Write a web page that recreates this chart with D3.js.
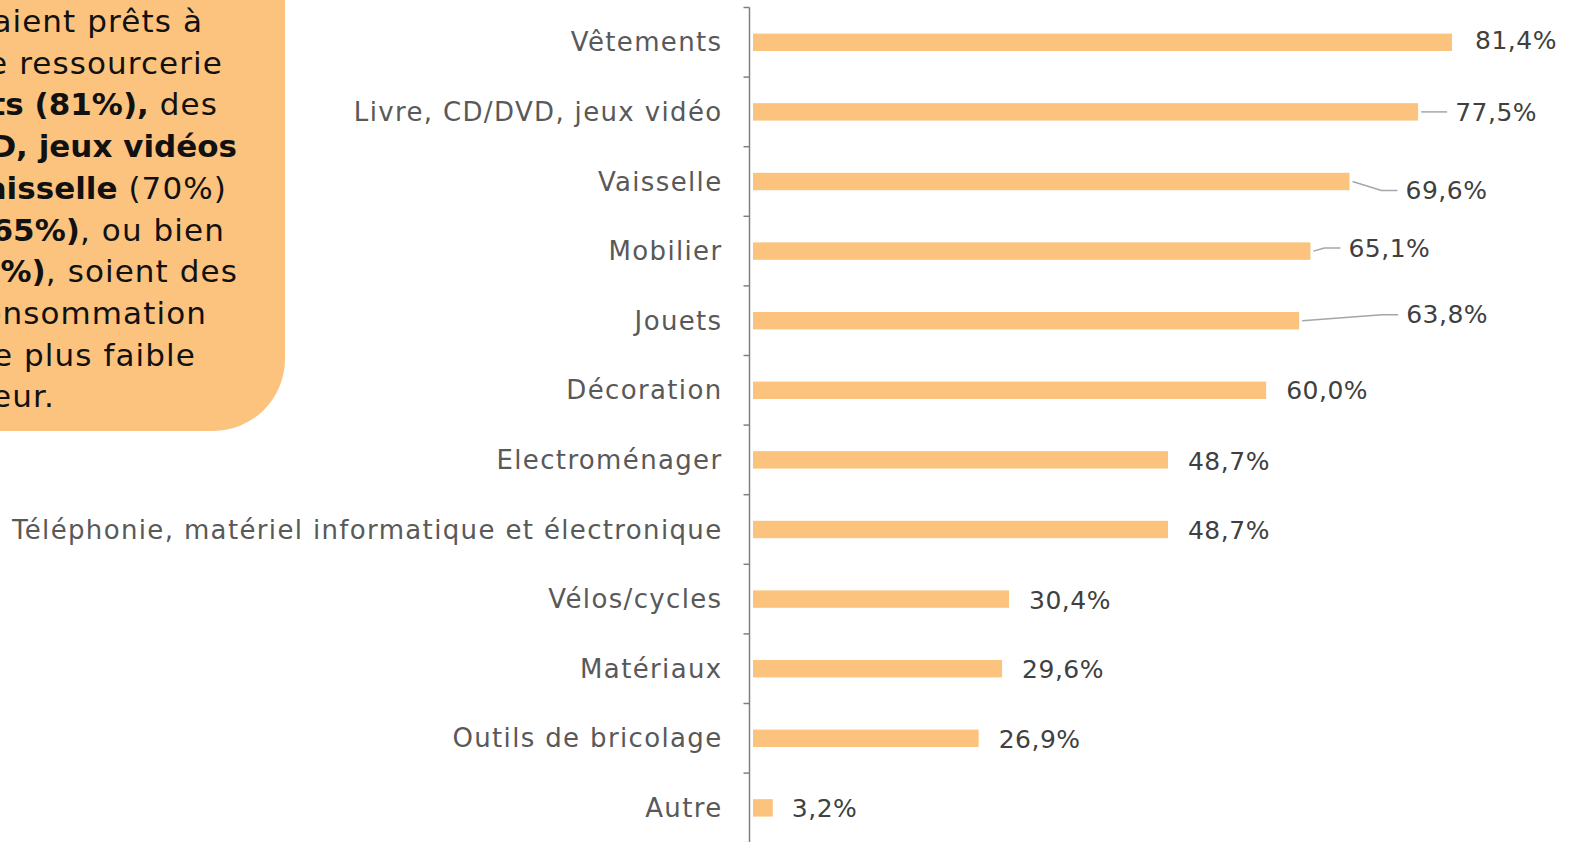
<!DOCTYPE html>
<html>
<head>
<meta charset="utf-8">
<script src="https://cdn.jsdelivr.net/npm/d3@7"></script>
<style>
  html, body { margin: 0; padding: 0; background: #ffffff; overflow: hidden; }
  svg { display: block; }
</style>
</head>
<body>
<svg id="chart" width="1570" height="842"></svg>
<script>
// ---- data ----
const categories = [
  "Vêtements",
  "Livre, CD/DVD, jeux vidéo",
  "Vaisselle",
  "Mobilier",
  "Jouets",
  "Décoration",
  "Electroménager",
  "Téléphonie, matériel informatique et électronique",
  "Vélos/cycles",
  "Matériaux",
  "Outils de bricolage",
  "Autre"
];
const values = [81.4, 77.5, 69.6, 65.1, 63.8, 60.0, 48.7, 48.7, 30.4, 29.6, 26.9, 3.2];
const valueLabels = ["81,4%", "77,5%", "69,6%", "65,1%", "63,8%", "60,0%", "48,7%", "48,7%", "30,4%", "29,6%", "26,9%", "3,2%"];
// label displacement (px) from bar end, as placed in the original
const labelDx = [23, 37, 56, 38, 107, 20, 20, 20, 20, 20, 20, 19];
const labelDy = [-2, 0, 9, -3, -6, 0, 1, 1, 1, 1, 1, 0];

// callout text (left box), cut by the page edge
const calloutLines = [
  [["Les répondants étaient prêts à", false]],
  [["acheter dans une ressourcerie", false]],
  [["des vêtements (81%),", true], [" des", false]],
  [["livres, CD/DVD, jeux vidéos", true]],
  [["(78%), de la ", false], ["vaisselle", true], [" (70%)", false]],
  [["du mobilier (65%)", true], [", ou bien", false]],
  [["des jouets (64%)", true], [", soient des", false]],
  [["biens de consommation", false]],
  [["courante de plus faible", false]],
  [["valeur.", false]]
];
const calloutRightEdges = [203, 223, 218, 237, 227, 225, 238, 207, 196, 55];

// ---- layout ----
const FONT = "'DejaVu Sans', sans-serif";
const svg = d3.select("#chart");
const axisX = 749.5;

const y = d3.scaleBand().domain(categories).range([7.5, 842.7]).padding(0);
const x = d3.scaleLinear().domain([0, 81.4]).range([745, 1452]);
const barH = y.bandwidth() * 0.25;

// callout box
svg.append("rect")
  .attr("x", -120).attr("y", -120)
  .attr("width", 405).attr("height", 551)
  .attr("rx", 72).attr("ry", 72)
  .attr("fill", "#FBC37E");

const cText = svg.append("g").attr("font-family", FONT).attr("font-size", 31)
  .attr("fill", "#111111");
calloutLines.forEach((line, i) => {
  const t = cText.append("text")
    .attr("x", calloutRightEdges[i])
    .attr("y", 32 + i * 41.7)
    .attr("text-anchor", "end");
  line.forEach(([s, b]) => {
    t.append("tspan").text(s)
      .attr("font-weight", b ? "bold" : "normal")
      .attr("letter-spacing", b ? 0 : 1.1);
  });
});

// axis
const axisG = svg.append("g").attr("stroke", "#7f7f7f").attr("stroke-width", 1.5);
axisG.append("line")
  .attr("x1", axisX).attr("x2", axisX)
  .attr("y1", y.range()[0]).attr("y2", y.range()[1] + 5);
const tickYs = categories.map(c => y(c)).concat([y.range()[1]]);
axisG.selectAll("line.tick").data(tickYs).join("line")
  .attr("class", "tick")
  .attr("x1", axisX - 6).attr("x2", axisX)
  .attr("y1", d => d).attr("y2", d => d);

// category labels
svg.append("g").selectAll("text").data(categories).join("text")
  .attr("x", 722.5)
  .attr("y", d => y(d) + y.bandwidth() / 2)
  .attr("dy", "0.35em")
  .attr("text-anchor", "end")
  .attr("font-family", FONT)
  .attr("font-size", 26)
  .attr("letter-spacing", 1.35)
  .attr("fill", "#595959")
  .text(d => d);

// bars
const barStart = axisX + 3.5;
svg.append("g").selectAll("rect").data(values).join("rect")
  .attr("x", barStart)
  .attr("y", (d, i) => y(categories[i]) + (y.bandwidth() - barH) / 2)
  .attr("width", d => Math.max(0, x(d) - barStart))
  .attr("height", barH)
  .attr("fill", "#FBC37E");

// leader lines
const leader = d3.line();
values.forEach((v, i) => {
  if (labelDx[i] <= 30) return;
  const cy = y(categories[i]) + y.bandwidth() / 2;
  const lx = x(v) + labelDx[i];
  const ly = cy + labelDy[i];
  const pts = [[x(v) + 3, cy], [lx - 24, ly], [lx - 8, ly]];
  svg.append("path")
    .attr("d", leader(pts))
    .attr("fill", "none")
    .attr("stroke", "#a6a6a6")
    .attr("stroke-width", 1.5);
});

// value labels
svg.append("g").selectAll("text").data(values).join("text")
  .attr("x", (d, i) => x(d) + labelDx[i])
  .attr("y", (d, i) => y(categories[i]) + y.bandwidth() / 2 + labelDy[i])
  .attr("dy", "0.35em")
  .attr("font-family", FONT)
  .attr("font-size", 25)
  .attr("letter-spacing", 0.5)
  .attr("fill", "#404040")
  .text((d, i) => valueLabels[i]);
</script>
</body>
</html>
